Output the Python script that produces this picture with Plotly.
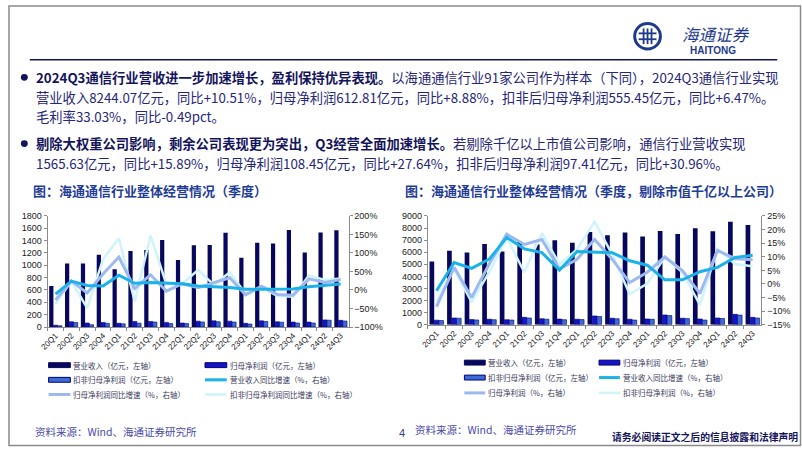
import plotly.graph_objects as go

# ---------------- data ----------------
quarters = ["20Q1", "20Q2", "20Q3", "20Q4", "21Q1", "21Q2", "21Q3", "21Q4",
            "22Q1", "22Q2", "22Q3", "22Q4", "23Q1", "23Q2", "23Q3", "23Q4",
            "24Q1", "24Q2", "24Q3"]

# left chart (亿元 / %)
left_revenue = [665, 1030, 1030, 1172, 935, 1230, 1248, 1412, 1087, 1325, 1330, 1527,
                1123, 1365, 1353, 1570, 1208, 1530, 1566]
left_np = [30, 85, 65, 75, 60, 90, 90, 75, 65, 95, 100, 95, 60, 100, 85, 80, 80, 115, 108]
left_npex = [20, 72, 38, 60, 52, 62, 80, 55, 55, 82, 85, 80, 48, 90, 78, 65, 65, 110, 97]
left_rev_yoy = [-11, 24, 12, 11, 40, 18, 20, 19, 17, 11, 9, 7, 2, 3, 2, 3, 9, 12, 16]
left_np_yoy = [-27, 24, -8, 43, 89, 4, 41, -3, 17, 6, 20, 33, -13, 10, -12, -14, 30, 20, 28]
left_npex_yoy = [-38, 24, -49, 83, 140, -31, 147, 15, 17, 54, 14, 48, -10, 8, -16, -18, 39, 27, 31]

# right chart (亿元 / %)
right_revenue = [5230, 6120, 5980, 6687, 6065, 6849, 6631, 6979, 6792, 7680, 7410, 7620,
                 7300, 7763, 7510, 7975, 7738, 8510, 8244]
right_np = [380, 560, 430, 460, 420, 620, 500, 470, 460, 730, 540, 460, 480, 810, 540, 480, 560, 860, 613]
right_npex = [350, 540, 400, 420, 390, 560, 460, 420, 430, 680, 500, 390, 450, 760, 510, 390, 520, 800, 555]
right_rev_yoy = [-2.5, 7.9, 5.7, 9.1, 17.1, 12.9, 11.5, 5.1, 11.9, 11.6, 11.5, 8.5, 6.9, 1.5, 1.5,
                 4.5, 6.1, 9.7, 10.51]
right_np_yoy = [-8.3, 6.1, -5.0, 7.3, 18.3, 14.5, 16.3, 5.5, 9.1, 16.3, 9.1, 0.5, 4.3, 9.9, 4.9,
                -3.5, 12.3, 9.3, 8.88]
right_npex_yoy = [-6.5, 5.5, -6.7, 4.3, 16.9, 4.3, 18.7, 7.3, 12.7, 22.9, 10.9, -3.8, 0.1, 9.9, 4.3,
                  -7.7, 12.9, 7.3, 6.47]

left_legend = ["营业收入（亿元，左轴）", "归母净利润（亿元，左轴）", "扣非归母净利润（亿元，左轴）",
               "营业收入同比增速（%，右轴）", "归母净利润同比增速（%，右轴）", "扣非归母净利润同比增速（%，右轴）"]
right_legend = ["营业收入（亿元，左轴）", "归母净利润（亿元，左轴）", "扣非归母净利润（亿元，左轴）",
                "营业收入同比增速（%，右轴）", "归母净利润（%，右轴）", "扣非归母净利润（%，右轴）"]

# ---------------- styles ----------------
W, H = 802, 452
def fx(x): return x / W
def fy(y): return 1 - y / H

C_REV = "#07075E"
C_NP = "#1414C8"
C_NPEX = "#3D6BD6"
C_BORDER = "#000070"
C_L1 = "#1AB2E8"
C_L2 = "#9DBAF0"
C_L3 = "#CFF4FC"
CJK = "Noto Sans CJK SC"
LAT = "Liberation Sans"

fig = go.Figure()

def add_chart(xa, ya, ya2, rev, np_, npex, r_yoy, n_yoy, e_yoy):
    fig.add_trace(go.Bar(x=quarters, y=rev, xaxis=xa, yaxis=ya, marker=dict(color=C_REV, line=dict(width=0)), showlegend=False))
    fig.add_trace(go.Bar(x=quarters, y=np_, xaxis=xa, yaxis=ya, marker=dict(color=C_NP, line=dict(color=C_BORDER, width=0.6)), showlegend=False))
    fig.add_trace(go.Bar(x=quarters, y=npex, xaxis=xa, yaxis=ya, marker=dict(color=C_NPEX, line=dict(color=C_BORDER, width=0.6)), showlegend=False))
    fig.add_trace(go.Scatter(x=quarters, y=e_yoy, xaxis=xa, yaxis=ya2, mode="lines", line=dict(color=C_L3, width=2.5), showlegend=False))
    fig.add_trace(go.Scatter(x=quarters, y=n_yoy, xaxis=xa, yaxis=ya2, mode="lines", line=dict(color=C_L2, width=3), showlegend=False))
    fig.add_trace(go.Scatter(x=quarters, y=r_yoy, xaxis=xa, yaxis=ya2, mode="lines", line=dict(color=C_L1, width=3), showlegend=False))

add_chart("x", "y", "y2", left_revenue, left_np, left_npex, left_rev_yoy, left_np_yoy, left_npex_yoy)
add_chart("x2", "y3", "y4", right_revenue, right_np, right_npex, right_rev_yoy, right_np_yoy, right_npex_yoy)

axis_common = dict(showgrid=False, zeroline=False, showline=True, linecolor="#8C8C8C", linewidth=1,
                   ticks="outside", ticklen=3, tickcolor="#8C8C8C",
                   tickfont=dict(family=LAT, size=9, color="#222222"))
xcommon = dict(axis_common, type="category", tickangle=-45, tickson="boundaries",
               tickfont=dict(family=LAT, size=8, color="#222222"))

fig.update_layout(
    width=W, height=H, margin=dict(l=0, r=0, t=0, b=0),
    paper_bgcolor="white", plot_bgcolor="white",
    barmode="group", bargap=0.2, bargroupgap=0,
    showlegend=False,
    xaxis=dict(xcommon, domain=[fx(40), fx(344)], anchor="y"),
    yaxis=dict(axis_common, domain=[fy(329.3), fy(215.7)], range=[0, 1800], dtick=200, anchor="x"),
    yaxis2=dict(axis_common, overlaying="y", side="right", range=[-100, 200], dtick=50,
                ticksuffix="%", anchor="x"),
    xaxis2=dict(xcommon, domain=[fx(424), fx(761)], anchor="y3"),
    yaxis3=dict(axis_common, domain=[fy(327), fy(215.7)], range=[0, 9000], dtick=1000, anchor="x2"),
    yaxis4=dict(axis_common, overlaying="y3", side="right", range=[-15, 25], dtick=5,
                ticksuffix="%", anchor="x2"),
)

shapes = []
ann = []

def text(x, y, s, size, color, family=CJK, xanchor="left", yanchor="middle", weight="normal", style="normal"):
    ann.append(dict(x=fx(x), y=fy(y), xref="paper", yref="paper", text=s, showarrow=False,
                    xanchor=xanchor, yanchor=yanchor,
                    font=dict(family=family, size=size, color=color, weight=weight, style=style)))

# slide border and header rule
shapes.append(dict(type="rect", xref="paper", yref="paper", x0=fx(1), y0=fy(450.5), x1=fx(800.5), y1=fy(1),
                   line=dict(color="#8A8A8A", width=1.5)))
shapes.append(dict(type="line", xref="paper", yref="paper", x0=fx(22), y0=fy(56), x1=fx(777), y1=fy(56),
                   line=dict(color="#14145A", width=1.5)))

# logo
LOGO_C = "#1F3A8C"
shapes.append(dict(type="circle", xref="paper", yref="paper", x0=fx(633), y0=fy(45), x1=fx(659), y1=fy(19),
                   line=dict(color=LOGO_C, width=3), fillcolor="white"))
for dx in (-4, 0, 4):
    shapes.append(dict(type="line", xref="paper", yref="paper", x0=fx(646 + dx), y0=fy(24), x1=fx(646 + dx), y1=fy(40),
                       line=dict(color=LOGO_C, width=1.8)))
for dy in (-3, 3):
    shapes.append(dict(type="line", xref="paper", yref="paper", x0=fx(637), y0=fy(32 + dy), x1=fx(655), y1=fy(32 + dy),
                       line=dict(color=LOGO_C, width=1.8)))
text(679, 30, "海通证券", 16.5, LOGO_C, style="italic")
text(687, 47, "HAITONG", 10, LOGO_C, family=LAT, weight="bold")

# bullets
BOLD_C = "#14145C"
REG_C = "#26267A"
for by in (74, 141.7):
    shapes.append(dict(type="circle", xref="paper", yref="paper", x0=fx(13), y0=fy(by + 3.5), x1=fx(20), y1=fy(by - 3.5),
                       line=dict(width=0), fillcolor="#14145C"))
FS = 13.3
BX = 26
text(BX, 74, "<b>2024Q3通信行业营收进一步加速增长，盈利保持优异表现。</b>"
     "<span style='color:%s'>以海通通信行业91家公司作为样本（下同），2024Q3通信行业实现</span>" % REG_C, FS, BOLD_C)
text(BX, 95, "营业收入8244.07亿元，同比+10.51%，归母净利润612.81亿元，同比+8.88%，扣非后归母净利润555.45亿元，同比+6.47%。", FS, REG_C)
text(BX, 114.3, "毛利率33.03%，同比-0.49pct。", FS, REG_C)
text(BX, 141.7, "<b>剔除大权重公司影响，剩余公司表现更为突出，Q3经营全面加速增长。</b>"
     "<span style='color:%s'>若剔除千亿以上市值公司影响，通信行业营收实现</span>" % REG_C, FS, BOLD_C)
text(BX, 161.7, "1565.63亿元，同比+15.89%，归母净利润108.45亿元，同比+27.64%，扣非后归母净利润97.41亿元，同比+30.96%。", FS, REG_C)

# chart titles
TITLE_C = "#1F3C96"
text(143, 190, "<b>图：海通通信行业整体经营情况（季度）</b>", 13, TITLE_C, xanchor="center")
text(591, 190, "<b>图：海通通信行业整体经营情况（季度，剔除市值千亿以上公司）</b>", 13, TITLE_C, xanchor="center")

# legends
def legend(items, cols_x, rows_y):
    kinds = [("bar", C_REV, None), ("bar", C_NP, C_BORDER), ("bar", C_NPEX, C_BORDER),
             ("line", C_L1, 3), ("line", C_L2, 3), ("line", C_L3, 2.5)]
    for i, label in enumerate(items):
        r, c = divmod(i, 2)
        sx0, sx1, tx = cols_x[c]
        yy = rows_y[r]
        kind, col, extra = kinds[i]
        if kind == "bar":
            shapes.append(dict(type="rect", xref="paper", yref="paper", x0=fx(sx0), x1=fx(sx1),
                               y0=fy(yy + 2.5), y1=fy(yy - 2.5), fillcolor=col,
                               line=dict(color=extra if extra else col, width=1)))
        else:
            shapes.append(dict(type="line", xref="paper", yref="paper", x0=fx(sx0), x1=fx(sx1),
                               y0=fy(yy), y1=fy(yy), line=dict(color=col, width=extra)))
        text(tx, yy, label, 7.5, "#3A3A5A")

legend(left_legend, [(41, 63, 64), (199, 221, 222)], [368.3, 383.3, 398.3])
legend(right_legend, [(461, 482, 483), (597, 618, 619)], [365.7, 381, 396.7])

# footers
SRC_C = "#4A4AA8"
text(25, 436, "资料来源：Wind、海通证券研究所", 10.5, SRC_C)
text(409, 434, "资料来源：Wind、海通证券研究所", 10.5, SRC_C)
text(403, 438, "4", 11, "#3A3A8A", family=LAT, xanchor="right")
text(704, 442, "请务必阅读正文之后的信息披露和法律声明", 9.8, "#14145C", xanchor="center", weight="bold")

fig.update_layout(shapes=shapes, annotations=ann)
fig.write_html("out.html", config={"displayModeBar": False},
               post_script="document.body.style.margin='0px';document.body.style.padding='0px';")
